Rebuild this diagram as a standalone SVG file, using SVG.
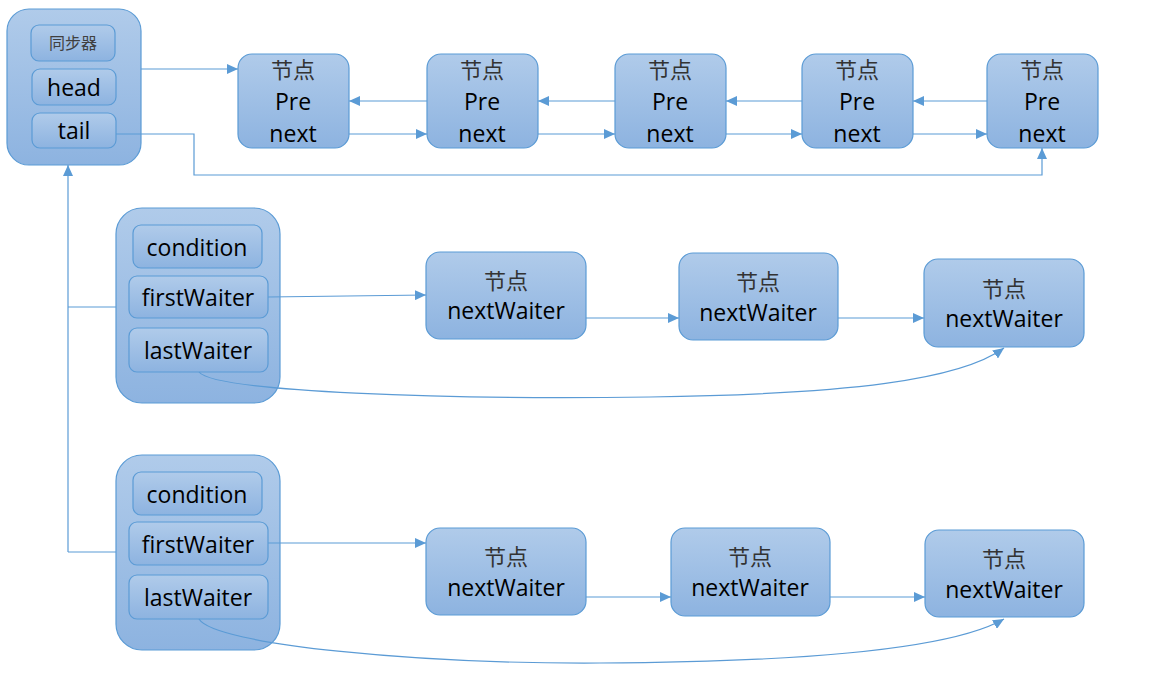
<svg xmlns="http://www.w3.org/2000/svg" width="1162" height="679" viewBox="0 0 1162 679">
<defs>
<linearGradient id="g" x1="0" y1="0" x2="0" y2="1">
<stop offset="0" stop-color="#b0cbea"/>
<stop offset="1" stop-color="#8db3e0"/>
</linearGradient>
<marker id="a" markerUnits="userSpaceOnUse" markerWidth="12" markerHeight="10" refX="11" refY="5" orient="auto">
<path d="M0,0 L11,5 L0,10 z" fill="#5b9bd5"/>
</marker>
<style>
.box{fill:url(#g);stroke:#5b9bd5;stroke-width:1.2}
.t{font-family:"Open Sans","Liberation Sans",sans-serif;font-size:23px;fill:#000;text-anchor:middle}
.c{font-family:"Noto Sans CJK SC",sans-serif;font-size:22px;fill:#333;text-anchor:middle}
.s{font-family:"Noto Sans CJK SC",sans-serif;font-size:16px;fill:#404040;text-anchor:middle}
.l{fill:none;stroke:#5b9bd5;stroke-width:1.2}
</style>
</defs>
<rect width="1162" height="679" fill="#fff"/>

<g id="sync">
<rect class="box" x="7" y="9" width="134" height="156" rx="22"/>
<rect class="box" x="31" y="25" width="84" height="36" rx="8"/>
<text class="s" x="73" y="49">同步器</text>
<rect class="box" x="32" y="69" width="84" height="36" rx="8"/>
<text class="t" x="74" y="96">head</text>
<rect class="box" x="32" y="113" width="84" height="35" rx="8"/>
<text class="t" x="74" y="139">tail</text>
</g>

<g id="n1"><rect class="box" x="238" y="54" width="111" height="94" rx="14"/>
<text class="c" x="293" y="78">节点</text><text class="t" x="293" y="110">Pre</text><text class="t" x="293" y="142">next</text></g>
<g id="n2"><rect class="box" x="427" y="54" width="111" height="94" rx="14"/>
<text class="c" x="482" y="78">节点</text><text class="t" x="482" y="110">Pre</text><text class="t" x="482" y="142">next</text></g>
<g id="n3"><rect class="box" x="615" y="54" width="111" height="94" rx="14"/>
<text class="c" x="670" y="78">节点</text><text class="t" x="670" y="110">Pre</text><text class="t" x="670" y="142">next</text></g>
<g id="n4"><rect class="box" x="802" y="54" width="111" height="94" rx="14"/>
<text class="c" x="857" y="78">节点</text><text class="t" x="857" y="110">Pre</text><text class="t" x="857" y="142">next</text></g>
<g id="n5"><rect class="box" x="987" y="54" width="111" height="94" rx="14"/>
<text class="c" x="1042" y="78">节点</text><text class="t" x="1042" y="110">Pre</text><text class="t" x="1042" y="142">next</text></g>

<g id="cond1">
<rect class="box" x="116" y="208" width="164" height="195" rx="26"/>
<rect class="box" x="133" y="225" width="129" height="43" rx="8"/>
<text class="t" x="197" y="256">condition</text>
<rect class="box" x="129" y="276" width="139" height="42" rx="8"/>
<text class="t" x="198" y="306">firstWaiter</text>
<rect class="box" x="129" y="328" width="139" height="44" rx="8"/>
<text class="t" x="198" y="359">lastWaiter</text>
</g>
<g id="w11"><rect class="box" x="426" y="252" width="160" height="87" rx="14"/>
<text class="c" x="506" y="289">节点</text><text class="t" x="506" y="319">nextWaiter</text></g>
<g id="w12"><rect class="box" x="679" y="253" width="159" height="87" rx="14"/>
<text class="c" x="758" y="290">节点</text><text class="t" x="758" y="321">nextWaiter</text></g>
<g id="w13"><rect class="box" x="924" y="259" width="160" height="88" rx="14"/>
<text class="c" x="1004" y="297">节点</text><text class="t" x="1004" y="327">nextWaiter</text></g>

<g id="cond2">
<rect class="box" x="116" y="455" width="164" height="195" rx="26"/>
<rect class="box" x="133" y="472" width="129" height="43" rx="8"/>
<text class="t" x="197" y="503">condition</text>
<rect class="box" x="129" y="522" width="139" height="43" rx="8"/>
<text class="t" x="198" y="553">firstWaiter</text>
<rect class="box" x="129" y="575" width="139" height="44" rx="8"/>
<text class="t" x="198" y="606">lastWaiter</text>
</g>
<g id="w21"><rect class="box" x="426" y="528" width="160" height="87" rx="14"/>
<text class="c" x="506" y="565">节点</text><text class="t" x="506" y="596">nextWaiter</text></g>
<g id="w22"><rect class="box" x="671" y="528" width="159" height="88" rx="14"/>
<text class="c" x="750" y="565">节点</text><text class="t" x="750" y="596">nextWaiter</text></g>
<g id="w23"><rect class="box" x="925" y="530" width="159" height="87" rx="14"/>
<text class="c" x="1004" y="567">节点</text><text class="t" x="1004" y="598">nextWaiter</text></g>

<g id="connectors">
<path class="l" d="M141,69 H238" marker-end="url(#a)"/>
<path class="l" d="M427,101 H349" marker-end="url(#a)"/>
<path class="l" d="M615,101 H538" marker-end="url(#a)"/>
<path class="l" d="M802,101 H726" marker-end="url(#a)"/>
<path class="l" d="M987,101 H913" marker-end="url(#a)"/>
<path class="l" d="M349,134 H427" marker-end="url(#a)"/>
<path class="l" d="M538,134 H615" marker-end="url(#a)"/>
<path class="l" d="M726,134 H802" marker-end="url(#a)"/>
<path class="l" d="M913,134 H987" marker-end="url(#a)"/>
<path class="l" d="M116,134 H194 V175 H1042 V148" marker-end="url(#a)"/>
<path class="l" d="M68,552 V165" marker-end="url(#a)"/>
<path class="l" d="M116,307 H68"/>
<path class="l" d="M116,552 H68"/>
<path class="l" d="M268,297 L426,295" marker-end="url(#a)"/>
<path class="l" d="M586,318 H679" marker-end="url(#a)"/>
<path class="l" d="M838,318 H924" marker-end="url(#a)"/>
<path class="l" d="M199,372 C215,392 450,400 650,397 C850,394 960,380 1004,348" marker-end="url(#a)"/>
<path class="l" d="M268,543 H426" marker-end="url(#a)"/>
<path class="l" d="M586,597 H671" marker-end="url(#a)"/>
<path class="l" d="M830,597 H925" marker-end="url(#a)"/>
<path class="l" d="M199,619 C215,645 420,664 600,663 C800,662 950,650 1004,619" marker-end="url(#a)"/>
</g>
</svg>
